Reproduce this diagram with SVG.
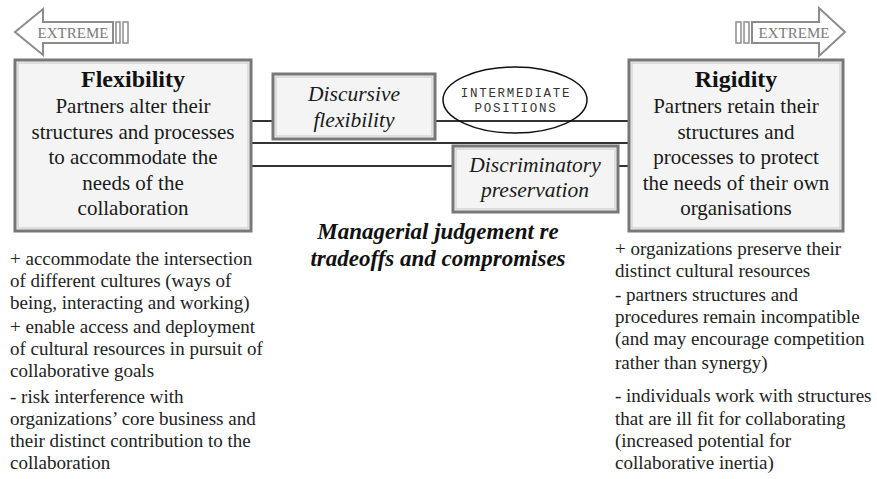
<svg xmlns="http://www.w3.org/2000/svg" width="877" height="479" viewBox="0 0 877 479">
<style>
.box{fill:#f4f4f4;stroke:#777;stroke-width:3}
.inner{fill:none;stroke:#c8c8c8;stroke-width:1}
.arrow{fill:#fff;stroke:#8c8c8c;stroke-width:2;stroke-linejoin:miter}
.bar{fill:#fff;stroke:#8c8c8c;stroke-width:1.5}
.ext{font-family:"Liberation Serif",serif;font-size:15px;fill:#7a7a7a;text-anchor:middle}
.title{font-family:"Liberation Serif",serif;font-size:24px;font-weight:bold;fill:#111;text-anchor:middle}
.body{font-family:"Liberation Serif",serif;font-size:21px;fill:#1a1a1a;text-anchor:middle}
.it{font-family:"Liberation Serif",serif;font-size:21.5px;font-style:italic;fill:#1a1a1a;text-anchor:middle}
.mgr{font-family:"Liberation Serif",serif;font-size:23px;font-style:italic;font-weight:bold;fill:#111;text-anchor:middle}
.note{font-family:"Liberation Serif",serif;font-size:19px;fill:#222}
.mono{font-family:"Liberation Mono",monospace;font-size:12.5px;fill:#333;text-anchor:middle;letter-spacing:1.7px}
.conn{stroke:#333;stroke-width:2;fill:none}
</style>

<g id="extreme-left">
<polygon class="arrow" points="15,32 43,9 43,22 113,22 113,43 43,43 43,55"/>
<rect class="bar" x="116" y="22" width="4" height="21"/>
<rect class="bar" x="123" y="22" width="5" height="21"/>
<text class="ext" x="73" y="38">EXTREME</text>
</g>

<g id="extreme-right">
<polygon class="arrow" points="845,32 819,8 819,22 752,22 752,43 819,43 819,56"/>
<rect class="bar" x="736" y="22" width="5" height="21"/>
<rect class="bar" x="744" y="22" width="5" height="21"/>
<text class="ext" x="794" y="38">EXTREME</text>
</g>

<g id="connectors">
<line class="conn" x1="251" y1="121" x2="273" y2="121"/>
<line class="conn" x1="435" y1="121" x2="629" y2="121"/>
<line class="conn" x1="251" y1="143" x2="629" y2="143"/>
<line class="conn" x1="251" y1="166" x2="453" y2="166"/>
<line class="conn" x1="618" y1="166" x2="629" y2="166"/>
</g>

<g id="flexibility">
<rect class="box" x="15" y="60" width="236" height="171"/>
<rect class="inner" x="18" y="63" width="230" height="165"/>
<text class="title" x="133" y="87">Flexibility</text>
<text class="body" x="133" y="113">Partners alter their</text>
<text class="body" x="133" y="139">structures and processes</text>
<text class="body" x="133" y="164">to accommodate the</text>
<text class="body" x="133" y="190">needs of the</text>
<text class="body" x="133" y="215">collaboration</text>
</g>

<g id="rigidity">
<rect class="box" x="629" y="60" width="214" height="171"/>
<rect class="inner" x="632" y="63" width="208" height="165"/>
<text class="title" x="736" y="87">Rigidity</text>
<text class="body" x="736" y="113">Partners retain their</text>
<text class="body" x="736" y="139">structures and</text>
<text class="body" x="736" y="164">processes to protect</text>
<text class="body" x="736" y="190">the needs of their own</text>
<text class="body" x="736" y="215">organisations</text>
</g>

<g id="discursive">
<rect class="box" x="273" y="74" width="162" height="65"/>
<rect class="inner" x="276" y="77" width="156" height="59"/>
<text class="it" x="354" y="101">Discursive</text>
<text class="it" x="354" y="127">flexibility</text>
</g>

<g id="intermediate">
<ellipse cx="515" cy="100" rx="72" ry="33" fill="none" stroke="#111" stroke-width="1.5"/>
<text class="mono" x="516" y="97">INTERMEDIATE</text>
<text class="mono" x="516" y="112">POSITIONS</text>
</g>

<g id="discriminatory">
<rect class="box" x="453" y="146" width="165" height="66"/>
<rect class="inner" x="456" y="149" width="159" height="60"/>
<text class="it" x="535" y="172">Discriminatory</text>
<text class="it" x="535" y="197">preservation</text>
</g>

<g id="managerial">
<text class="mgr" x="438" y="239">Managerial judgement re</text>
<text class="mgr" x="438" y="266">tradeoffs  and compromises</text>
</g>

<g id="flex-notes">
<text class="note" x="10" y="265">+ accommodate  the intersection</text>
<text class="note" x="10" y="287">of different cultures (ways of</text>
<text class="note" x="10" y="309">being, interacting and working)</text>
<text class="note" x="10" y="333">+ enable access and deployment</text>
<text class="note" x="10" y="355">of cultural resources in pursuit of</text>
<text class="note" x="10" y="377">collaborative goals</text>
<text class="note" x="10" y="403">- risk interference with</text>
<text class="note" x="10" y="425">organizations’ core business and</text>
<text class="note" x="10" y="447">their distinct contribution to the</text>
<text class="note" x="10" y="469">collaboration</text>
</g>

<g id="rigid-notes">
<text class="note" x="615" y="255">+ organizations preserve their</text>
<text class="note" x="615" y="277">distinct cultural resources</text>
<text class="note" x="615" y="301">- partners structures and</text>
<text class="note" x="615" y="323">procedures remain  incompatible</text>
<text class="note" x="615" y="345">(and may encourage competition</text>
<text class="note" x="615" y="369">rather than synergy)</text>
<text class="note" x="615" y="402">- individuals work with structures</text>
<text class="note" x="615" y="425">that are ill fit for collaborating</text>
<text class="note" x="615" y="447">(increased potential for</text>
<text class="note" x="615" y="469">collaborative inertia)</text>
</g>
</svg>
